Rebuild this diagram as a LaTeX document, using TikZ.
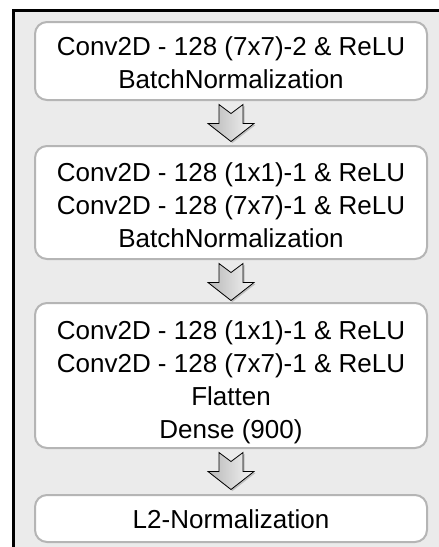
\documentclass[tikz,border=0pt]{standalone}
\usepackage{fontspec}
\setmainfont{Liberation Sans}
\usetikzlibrary{calc}
\definecolor{bggray}{HTML}{EBEBEB}
\definecolor{boxgray}{HTML}{B5B5B5}
% notched block arrow hanging below a named coordinate
\newcommand\layerarrow[1]{%
  \fill[black,opacity=0.18] ($(#1)+(-10.5,1.5)$) -- ++(12,9) -- ++(12,-9) -- ++(0,19) -- ++(11,0)
    -- ++(-23,18) -- ++(-23,-18) -- ++(11,0) -- cycle;
  \draw[flowarrow] ($(#1)+(-12,0)$) -- ++(12,9) -- ++(12,-9) -- ++(0,19) -- ++(11,0)
    -- ++(-23,18) -- ++(-23,-18) -- ++(11,0) -- cycle;}
\begin{document}
\begin{tikzpicture}[x=1pt,y=-1pt,
  layerbox/.style={draw=boxgray, line width=2pt, fill=white, rounded corners=12pt,
    minimum width=392pt, inner sep=0pt},
  layertext/.style={inner sep=0pt, align=center, font=\fontsize{26}{33}\selectfont},
  flowarrow/.style={draw=black, line width=0.8pt, left color=black!28, right color=black!4,
    line join=miter}]
\useasboundingbox (0,0) rectangle (439,547);
\fill[white] (0,0) rectangle (439,547);
\fill[bggray] (12,9) rectangle (439,547);
\draw[line width=3pt] (13.5,547) -- (13.5,10.5) -- (439,10.5);

\node[layerbox, minimum height=78pt] (b1) at (231,61) {};
\node[layertext] (t1) at ($(b1.center)+(0,1.5)$)
  {Conv2D - 128 (7x7)-2 \& ReLU\\BatchNormalization};
\node[layerbox, minimum height=113pt] (b2) at (231,202.5) {};
\node[layertext] (t2) at ($(b2.center)+(0,3)$)
  {Conv2D - 128 (1x1)-1 \& ReLU\\Conv2D - 128 (7x7)-1 \& ReLU\\BatchNormalization};
\node[layerbox, minimum height=145pt] (b3) at (231,375.5) {};
\node[layertext] (t3) at ($(b3.center)+(0,6.5)$)
  {Conv2D - 128 (1x1)-1 \& ReLU\\Conv2D - 128 (7x7)-1 \& ReLU\\Flatten\\Dense (900)};
\node[layerbox, minimum height=47pt] (b4) at (231,518.5) {};
\node[layertext] (t4) at ($(b4.center)+(0,1)$) {L2-Normalization};

\coordinate (a1) at ($(b1.south)+(0,3.5)$);
\coordinate (a2) at ($(b2.south)+(0,3.5)$);
\coordinate (a3) at ($(b3.south)+(0,3.5)$);
\layerarrow{a1}
\layerarrow{a2}
\layerarrow{a3}
\end{tikzpicture}
\end{document}
